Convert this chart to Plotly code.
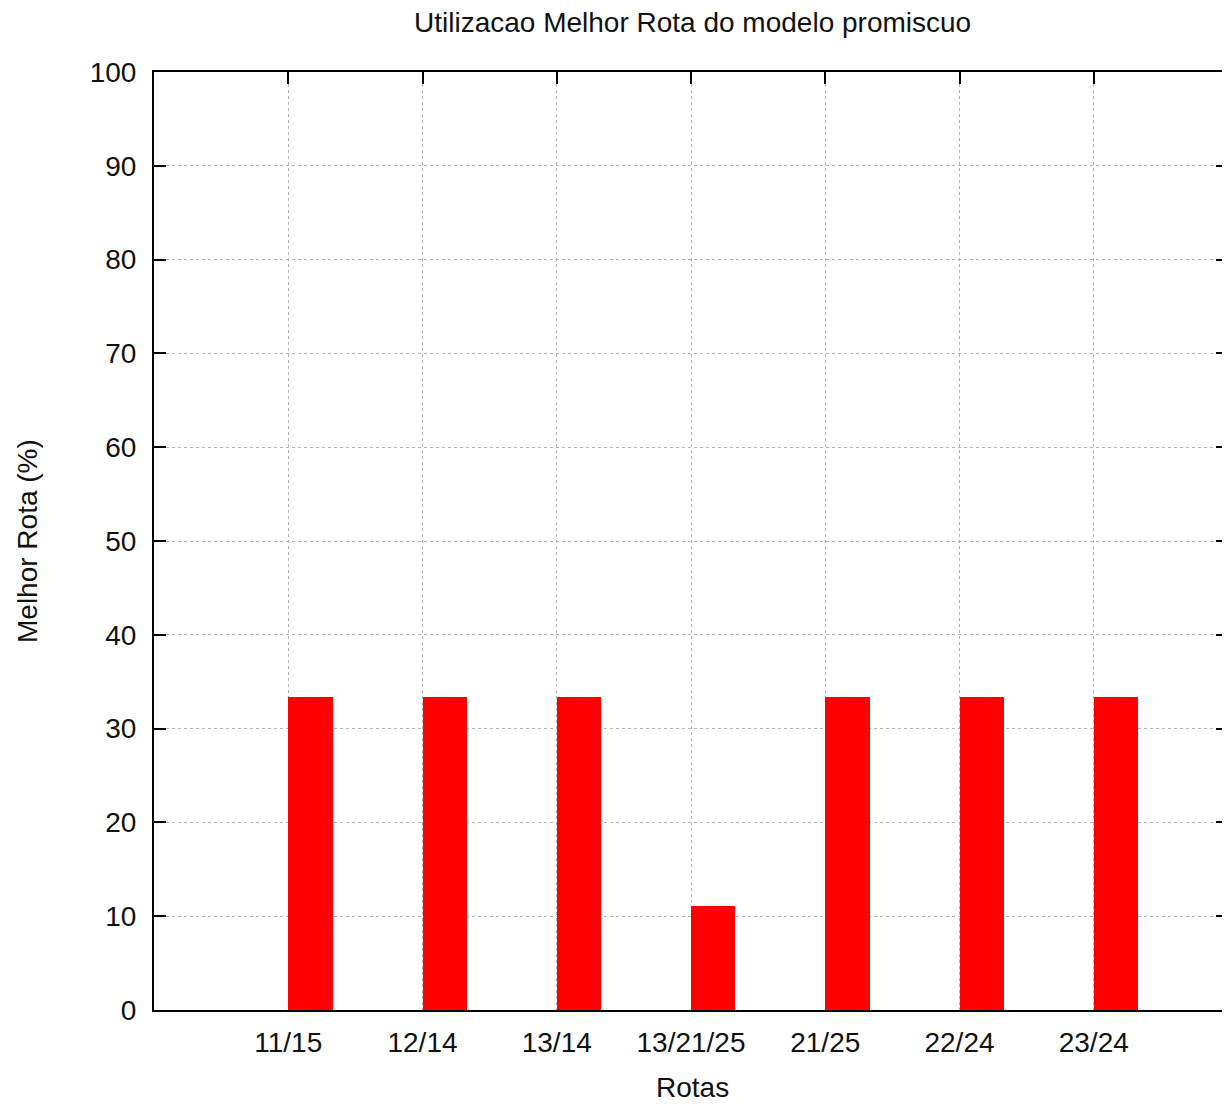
import plotly.graph_objects as go

categories = ["11/15", "12/14", "13/14", "13/21/25", "21/25", "22/24", "23/24"]
values = [33.33, 33.33, 33.33, 11.11, 33.33, 33.33, 33.33]
y_ticks = [0, 10, 20, 30, 40, 50, 60, 70, 80, 90, 100]

positions = list(range(len(categories)))
font = "Liberation Sans, Arial, sans-serif"
fsize = 28
W, H = 1230, 1104
OFF = 8  # page body margin offset in the screenshot
L, R, T, B = 154 - OFF, 1228 - OFF, 72 - OFF, 1010 - OFF  # plot area pixels
pw, ph = R - L, B - T

fig = go.Figure()
fig.add_trace(go.Bar(
    x=positions, y=values, width=0.33, offset=0,
    marker=dict(color="#ff0000", line=dict(width=0)),
    showlegend=False,
))
fig.add_trace(go.Scatter(x=[positions[0]], y=[0], xaxis="x2", mode="markers",
                         marker=dict(opacity=0), showlegend=False, hoverinfo="skip"))

fig.update_layout(
    width=W, height=H,
    margin=dict(l=L, r=W - R, t=T, b=H - B, autoexpand=False),
    paper_bgcolor="white", plot_bgcolor="white",
    font=dict(family=font, size=fsize, color="#111111"),
    bargap=0,
    xaxis=dict(
        range=[-1, 7], tickmode="array", tickvals=positions, ticktext=categories,
        ticks="", showline=True, linecolor="black", linewidth=2, mirror=True,
        showgrid=True, gridcolor="#b4b4b4", griddash="dot", gridwidth=1,
        zeroline=False, automargin=False, ticklabelstandoff=6,
    ),
    xaxis2=dict(
        range=[-1, 7], overlaying="x", side="top", tickmode="array", tickvals=positions,
        ticks="inside", ticklen=12, tickwidth=2, tickcolor="black",
        showticklabels=False, showgrid=False, zeroline=False, showline=False,
        automargin=False,
    ),
    yaxis=dict(
        range=[0, 100], tickmode="array", tickvals=y_ticks,
        ticks="inside", ticklen=12, tickwidth=2, tickcolor="black",
        showline=True, linecolor="black", linewidth=2, mirror="ticks",
        showgrid=True, gridcolor="#b4b4b4", griddash="dot", gridwidth=1,
        zeroline=False, automargin=False, ticklabelstandoff=10,
    ),
    annotations=[
        dict(text="Utilizacao Melhor Rota do modelo promiscuo", xref="paper", yref="paper",
             x=(692 - OFF - L) / pw, y=(B - (22 - OFF)) / ph, xanchor="center", yanchor="middle",
             showarrow=False, font=dict(family=font, size=fsize, color="#111111")),
        dict(text="Rotas", xref="paper", yref="paper",
             x=(692 - OFF - L) / pw, y=(B - (1087 - OFF)) / ph, xanchor="center", yanchor="middle",
             showarrow=False, font=dict(family=font, size=fsize, color="#111111")),
        dict(text="Melhor Rota (%)", xref="paper", yref="paper", textangle=-90,
             x=(27 - OFF - L) / pw, y=(B - (541 - OFF)) / ph, xanchor="center", yanchor="middle",
             showarrow=False, font=dict(family=font, size=fsize, color="#111111")),
    ],
)

fig.write_html("out.html")
